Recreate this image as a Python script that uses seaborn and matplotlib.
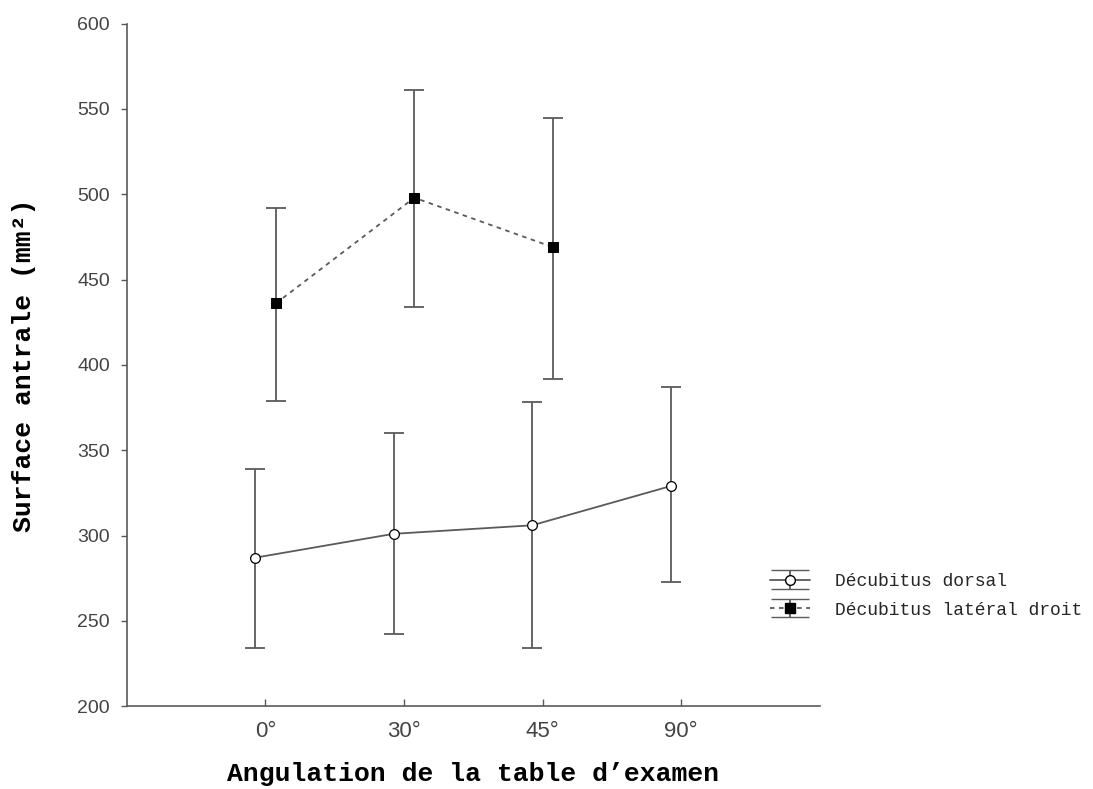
import matplotlib.pyplot as plt
import seaborn as sns
import numpy as np
import pandas as pd

# Values
angles = ["0°", "30°", "45°", "90°"]

dorsal_mean = [287, 301, 306, 329]
dorsal_low = [234, 242, 234, 273]
dorsal_high = [339, 360, 378, 387]

lateral_angles = ["0°", "30°", "45°"]
lateral_mean = [436, 498, 469]
lateral_low = [379, 434, 392]
lateral_high = [492, 561, 545]

series_names = ["Décubitus dorsal", "Décubitus latéral droit"]
x_label = "Angulation de la table d\u2019examen"
y_label = "Surface antrale (mm²)"

sns.set_style("ticks")
plt.rcParams["font.family"] = ["Liberation Sans", "DejaVu Sans"]

grey = "#5a5a5a"
dodge = 0.075

df_d = pd.DataFrame({"angle": angles, "mean": dorsal_mean, "low": dorsal_low, "high": dorsal_high})
df_d["pos"] = [angles.index(a) - dodge for a in df_d["angle"]]
df_l = pd.DataFrame({"angle": lateral_angles, "mean": lateral_mean, "low": lateral_low, "high": lateral_high})
df_l["pos"] = [angles.index(a) + dodge for a in df_l["angle"]]

fig = plt.figure(figsize=(10.93, 7.89), dpi=100)
ax = fig.add_axes([0.116, 0.105, 0.634, 0.865])

# error bars
for df in (df_d, df_l):
    ax.errorbar(df["pos"], df["mean"],
                yerr=[df["mean"] - df["low"], df["high"] - df["mean"]],
                fmt="none", ecolor=grey, elinewidth=1.3, capsize=7, capthick=1.3, zorder=2)

# means
sns.lineplot(data=df_d, x="pos", y="mean", ax=ax, color=grey, linewidth=1.3,
             marker="o", markersize=7, markerfacecolor="white",
             markeredgecolor="black", markeredgewidth=0.9, zorder=3)
sns.lineplot(data=df_l, x="pos", y="mean", ax=ax, color=grey, linewidth=1.3,
             linestyle=(0, (2.5, 2.5)), marker="s", markersize=7.5,
             markerfacecolor="black", markeredgecolor="black", zorder=3)

ax.set_xlim(-1, 4)
ax.set_ylim(200, 600)
ax.set_xticks(range(len(angles)))
ax.set_xticklabels(angles)
ax.set_yticks(np.arange(200, 601, 50))
ax.tick_params(axis="x", direction="in", length=5, width=1, color=grey,
               labelsize=16, labelcolor="#444444", pad=11)
ax.tick_params(axis="y", direction="out", length=4, width=1, color=grey,
               labelsize=14, labelcolor="#444444", pad=8)
for s in ("top", "right"):
    ax.spines[s].set_visible(False)
for s in ("left", "bottom"):
    ax.spines[s].set_color(grey)
    ax.spines[s].set_linewidth(1.2)

ax.set_xlabel(x_label, family=["Liberation Mono", "DejaVu Sans Mono"],
              fontsize=19, fontweight="bold", color="black", labelpad=14)
ax.set_ylabel(y_label, family=["Liberation Mono", "DejaVu Sans Mono"],
              fontsize=19, fontweight="bold", color="black", labelpad=30)

# legend with error-bar style handles
h1 = ax.errorbar([np.nan], [np.nan], yerr=[[1], [1]], color=grey, ecolor=grey,
                 linestyle="-", linewidth=1.3, marker="o", markersize=7,
                 markerfacecolor="white", markeredgecolor="black", capsize=14)
h2 = ax.errorbar([np.nan], [np.nan], yerr=[[1], [1]], color=grey, ecolor=grey,
                 linestyle=(0, (2.5, 2.5)), linewidth=1.3, marker="s", markersize=7.5,
                 markerfacecolor="black", markeredgecolor="black", capsize=14)
fig.legend([h1, h2], series_names, loc="center left", bbox_to_anchor=(0.69, 0.245),
           frameon=False, handlelength=2.2, handletextpad=1.4, labelspacing=0.65,
           prop={"family": ["Liberation Mono", "DejaVu Sans Mono"], "size": 13})

fig.savefig("out.png", dpi=100, facecolor="white")
